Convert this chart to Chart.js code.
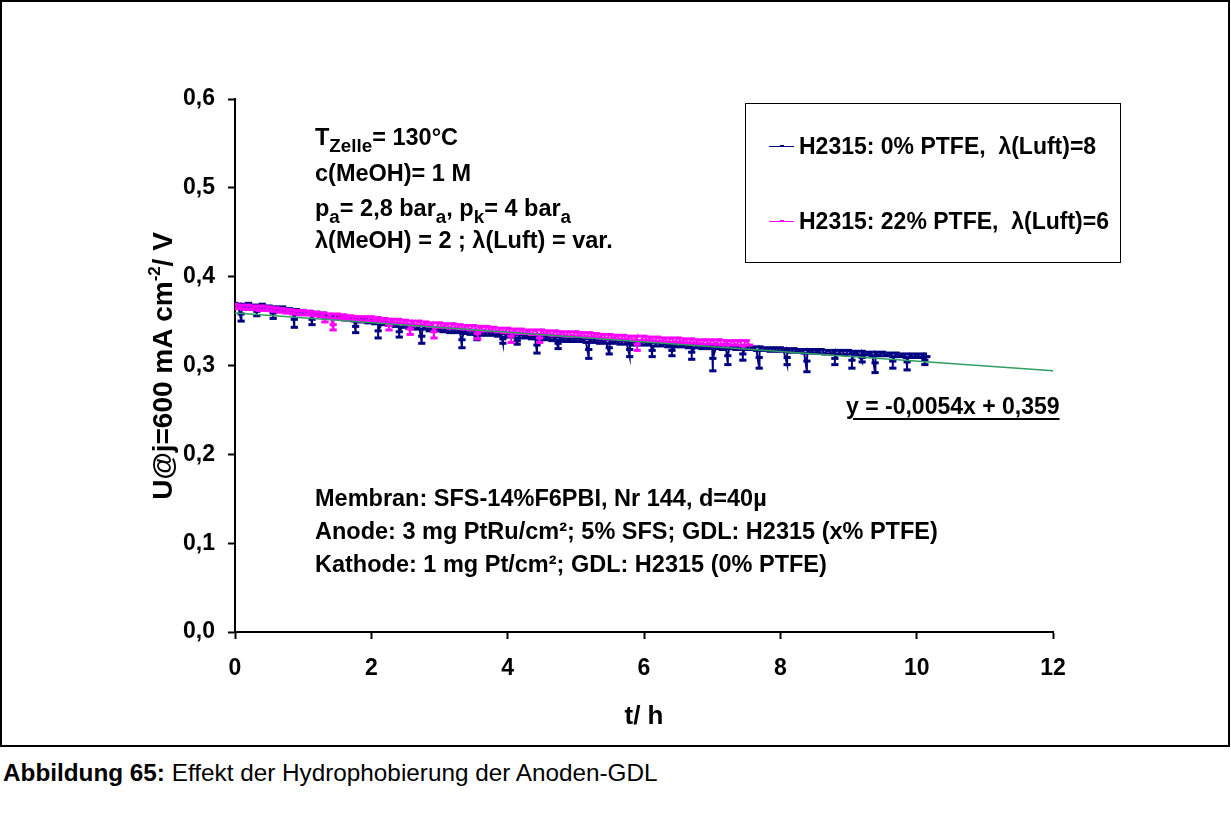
<!DOCTYPE html>
<html>
<head>
<meta charset="utf-8">
<script src="https://cdn.jsdelivr.net/npm/chart.js@4.4.1/dist/chart.umd.min.js"></script>
<style>
  html, body { margin: 0; padding: 0; background: #fff; }
  #page { position: relative; width: 1231px; height: 821px; overflow: hidden;
          font-family: "Liberation Sans", Arial, sans-serif; color: #000; }
  #plot { position: absolute; left: 0; top: 0; }
  .frame { position: absolute; left: 0; top: 0; width: 1230px; height: 747px;
           box-sizing: border-box; border: 2px solid #000; pointer-events: none; }
  .txt { position: absolute; white-space: nowrap; font-weight: bold; font-size: 23.5px; line-height: 24px; }
  .txt sub { font-size: 80%; vertical-align: -0.35em; line-height: 0; }
  .legend { position: absolute; left: 745px; top: 103px; width: 376px; height: 160px;
            box-sizing: border-box; border: 1px solid #000; background: #fff; }
  .leg-row { position: absolute; left: 23px; white-space: nowrap; font-weight: bold;
             font-size: 23px; line-height: 23px; }
  .leg-sym { display: inline-block; position: relative; width: 25px; height: 23px;
             vertical-align: top; margin-right: 5px; }
  .leg-sym i { position: absolute; left: 0; right: 0; top: 11px; height: 1px; }
  .leg-sym b { position: absolute; left: 11px; width: 4px; top: 10px; height: 2px; }
  .ytitle { position: absolute; left: 163px; top: 366px; transform: translate(-50%, -50%) rotate(-90deg);
            white-space: nowrap; font-weight: bold; font-size: 28px; line-height: 28px; }
  .ytitle sup { font-size: 60%; vertical-align: 0.7em; line-height: 0; }
  .equation { position: absolute; left: 846px; top: 395px; white-space: nowrap; font-weight: bold;
              font-size: 23px; line-height: 23px; text-decoration: underline;
              text-decoration-thickness: 2px; text-underline-offset: 4px; }
  .caption { position: absolute; left: 3px; top: 761px; white-space: nowrap; font-size: 24.3px; line-height: 24px; }
</style>
</head>
<body>
<div id="page">
  <canvas id="plot" width="1231" height="746"></canvas>
  <div class="frame"></div>

  <div class="ytitle">U@j=600 mA cm<sup>-2</sup>/ V</div>

  <div class="txt" style="left:315px; top:125px;">T<sub>Zelle</sub>= 130°C</div>
  <div class="txt" style="left:315px; top:161px;">c(MeOH)= 1 M</div>
  <div class="txt" style="left:315px; top:196px;">p<sub>a</sub>= 2,8 bar<sub>a</sub>, p<sub>k</sub>= 4 bar<sub>a</sub></div>
  <div class="txt" style="left:315px; top:228px;">λ(MeOH) = 2 ; λ(Luft) = var.</div>

  <div class="txt" style="left:315px; top:486px;">Membran: SFS-14%F6PBI, Nr 144, d=40µ</div>
  <div class="txt" style="left:315px; top:519px;">Anode: 3 mg PtRu/cm²; 5% SFS; GDL: H2315 (x% PTFE)</div>
  <div class="txt" style="left:315px; top:552px;">Kathode: 1 mg Pt/cm²; GDL: H2315 (0% PTFE)</div>

  <div class="legend">
    <div class="leg-row" style="top:31px;"><span class="leg-sym"><i style="background:#000080"></i><b style="background:#000080"></b></span>H2315: 0% PTFE,&nbsp; λ(Luft)=8</div>
    <div class="leg-row" style="top:106px;"><span class="leg-sym"><i style="background:#ff00ff"></i><b style="background:#ff00ff"></b></span>H2315: 22% PTFE,&nbsp; λ(Luft)=6</div>
  </div>

  <div class="equation">y = -0,0054x + 0,359</div>

  <div class="caption"><b>Abbildung 65:</b> Effekt der Hydrophobierung der Anoden-GDL</div>
</div>

<script>
// Sampling interval of the logged cell voltage (hours)
const sampleStep = 0.05;

// H2315, 0% PTFE, lambda(Luft)=8 : cell voltage in V, one value per sample
const navyVoltage = [
  0.370, 0.366, 0.369, 0.365, 0.370, 0.366, 0.368, 0.364, 0.369, 0.365,
  0.367, 0.364, 0.366, 0.362, 0.366, 0.362, 0.364, 0.360, 0.363, 0.359,
  0.362, 0.358, 0.361, 0.357, 0.360, 0.356, 0.359, 0.355, 0.357, 0.354,
  0.356, 0.352, 0.355, 0.351, 0.354, 0.350, 0.353, 0.349, 0.352, 0.348,
  0.351, 0.347, 0.350, 0.346, 0.349, 0.345, 0.348, 0.344, 0.347, 0.343,
  0.346, 0.342, 0.345, 0.341, 0.345, 0.341, 0.343, 0.339, 0.342, 0.339,
  0.342, 0.338, 0.341, 0.337, 0.341, 0.337, 0.339, 0.336, 0.339, 0.335,
  0.339, 0.335, 0.338, 0.334, 0.338, 0.334, 0.336, 0.333, 0.336, 0.332,
  0.336, 0.332, 0.335, 0.331, 0.335, 0.331, 0.333, 0.330, 0.333, 0.329,
  0.333, 0.329, 0.332, 0.328, 0.332, 0.328, 0.331, 0.327, 0.330, 0.327,
  0.331, 0.327, 0.330, 0.326, 0.330, 0.326, 0.329, 0.325, 0.328, 0.325,
  0.329, 0.325, 0.328, 0.324, 0.328, 0.324, 0.327, 0.323, 0.326, 0.323,
  0.327, 0.323, 0.326, 0.322, 0.326, 0.322, 0.325, 0.321, 0.324, 0.321,
  0.325, 0.321, 0.324, 0.320, 0.324, 0.320, 0.323, 0.319, 0.322, 0.319,
  0.323, 0.319, 0.322, 0.318, 0.323, 0.319, 0.322, 0.318, 0.322, 0.318,
  0.322, 0.318, 0.321, 0.317, 0.321, 0.317, 0.320, 0.316, 0.320, 0.316,
  0.320, 0.316, 0.319, 0.315, 0.319, 0.315, 0.318, 0.314, 0.318, 0.314,
  0.318, 0.314, 0.318, 0.313, 0.317, 0.313, 0.317, 0.313, 0.317, 0.312,
  0.317, 0.313, 0.316, 0.312, 0.316, 0.312, 0.315, 0.311, 0.315, 0.311,
  0.315, 0.311, 0.314, 0.310, 0.314, 0.310, 0.313, 0.309, 0.313, 0.309,
  0.313, 0.309, 0.313, 0.310
];
// Short voltage drops of the same run: time (h), lowest value, recovery value (V)
const navyDropTime = [0.09, 0.32, 0.56, 0.87, 1.13, 1.77, 2.10, 2.41, 2.74, 3.33, 3.55, 3.93,
  4.14, 4.43, 4.74, 5.19, 5.49, 5.79, 6.12, 6.41, 6.70, 7.01, 7.23, 7.45, 7.69, 8.10, 8.39,
  8.80, 9.05, 9.20, 9.39, 9.65, 9.86, 10.12];
const navyDropLow = [0.350, 0.356, 0.353, 0.343, 0.346, 0.337, 0.331, 0.332, 0.325, 0.320, 0.329, 0.325,
  0.324, 0.314, 0.319, 0.308, 0.313, 0.310, 0.310, 0.311, 0.307, 0.294, 0.301, 0.306, 0.297, 0.301, 0.293,
  0.301, 0.297, 0.304, 0.292, 0.297, 0.295, 0.301];
const navyDropMid = [0.358, 0.361, 0.359, 0.352, 0.352, 0.344, 0.339, 0.338, 0.333, 0.329, 0.333, 0.330,
  0.328, 0.323, 0.325, 0.318, 0.320, 0.318, 0.317, 0.317, 0.315, 0.308, 0.311, 0.313, 0.309, 0.309, 0.305,
  0.308, 0.306, 0.309, 0.303, 0.305, 0.304, 0.306];

// H2315, 22% PTFE, lambda(Luft)=6 : cell voltage in V, one value per sample
const magentaVoltage = [
  0.369, 0.364, 0.368, 0.363, 0.368, 0.363, 0.367, 0.362, 0.367, 0.362,
  0.366, 0.361, 0.365, 0.360, 0.364, 0.359, 0.363, 0.358, 0.362, 0.357,
  0.362, 0.357, 0.361, 0.356, 0.360, 0.355, 0.359, 0.354, 0.358, 0.353,
  0.358, 0.353, 0.357, 0.352, 0.356, 0.351, 0.355, 0.350, 0.355, 0.350,
  0.355, 0.350, 0.354, 0.349, 0.353, 0.348, 0.352, 0.347, 0.352, 0.347,
  0.351, 0.346, 0.350, 0.345, 0.350, 0.345, 0.349, 0.344, 0.348, 0.343,
  0.348, 0.343, 0.347, 0.342, 0.347, 0.342, 0.346, 0.341, 0.345, 0.340,
  0.345, 0.340, 0.344, 0.339, 0.344, 0.339, 0.343, 0.338, 0.342, 0.337,
  0.342, 0.337, 0.341, 0.336, 0.341, 0.336, 0.340, 0.335, 0.340, 0.335,
  0.340, 0.335, 0.339, 0.334, 0.339, 0.334, 0.338, 0.333, 0.338, 0.333,
  0.338, 0.333, 0.337, 0.332, 0.337, 0.332, 0.336, 0.331, 0.335, 0.330,
  0.335, 0.330, 0.334, 0.329, 0.334, 0.329, 0.333, 0.328, 0.333, 0.328,
  0.333, 0.328, 0.332, 0.327, 0.332, 0.327, 0.331, 0.326, 0.331, 0.326,
  0.331, 0.326, 0.330, 0.325, 0.330, 0.325, 0.329, 0.324, 0.329, 0.324,
  0.329, 0.324, 0.329, 0.323, 0.328, 0.323, 0.328, 0.323, 0.328, 0.322,
  0.328, 0.323
];
const magentaDropTime = [1.32, 1.44, 1.61, 2.26, 2.57, 2.92, 3.56, 4.05, 4.47, 5.90];
const magentaDropLow  = [0.349, 0.340, 0.351, 0.340, 0.335, 0.331, 0.330, 0.326, 0.326, 0.317];
const magentaDropMid  = [0.354, 0.346, 0.354, 0.345, 0.341, 0.338, 0.336, 0.333, 0.331, 0.324];

// Linear fit of the 0% PTFE run: y = -0,0054x + 0,359
const fitSlope = -0.0054;
const fitIntercept = 0.359;
const fitRange = [0, 12];

// Axis tick labels
const xTickLabels = ['0', '2', '4', '6', '8', '10', '12'];
const yTickLabels = ['0,0', '0,1', '0,2', '0,3', '0,4', '0,5', '0,6'];

// Join the regular samples with the short drops in time order
function buildSeries(values, dropT, dropLow, dropMid) {
  const pts = [];
  let d = 0;
  values.forEach((u, i) => {
    const t = +(i * sampleStep).toFixed(2);
    pts.push({ x: t, y: u });
    while (d < dropT.length && dropT[d] < t + sampleStep) {
      pts.push({ x: dropT[d], y: dropLow[d] }, { x: dropT[d], y: dropMid[d] });
      d++;
    }
  });
  return pts;
}

const fitPoints = fitRange.map(t => ({ x: t, y: fitIntercept + fitSlope * t }));
const font = { family: "'Liberation Sans', Arial, sans-serif", weight: 'bold', size: 23 };

// Logged runs: thin line with short horizontal dash at every sample
const seriesStyle = (color) => ({
  showLine: true,
  borderColor: color,
  backgroundColor: color,
  borderWidth: 2,
  pointStyle: 'line',
  pointRadius: 3.6,
  pointBorderWidth: 3,
  pointBorderColor: color,
  pointHoverRadius: 0
});

new Chart(document.getElementById('plot'), {
  type: 'scatter',
  data: {
    datasets: [
      { label: 'Linear (H2315: 0% PTFE)', data: fitPoints, showLine: true, borderColor: '#2f9e62',
        borderWidth: 1.5, pointRadius: 0 },
      Object.assign({ label: 'H2315: 22% PTFE,  λ(Luft)=6',
        data: buildSeries(magentaVoltage, magentaDropTime, magentaDropLow, magentaDropMid) }, seriesStyle('#ff00ff')),
      Object.assign({ label: 'H2315: 0% PTFE,  λ(Luft)=8',
        data: buildSeries(navyVoltage, navyDropTime, navyDropLow, navyDropMid) }, seriesStyle('#000080'))
    ]
  },
  options: {
    responsive: false,
    animation: false,
    events: [],
    layout: { padding: { left: 0, top: 99, right: 178, bottom: 0 } },
    plugins: { legend: { display: false }, tooltip: { enabled: false } },
    scales: {
      x: {
        type: 'linear', min: 0, max: 12,
        afterFit: (s) => { s.height = 114; },
        afterBuildTicks: (s) => { s.ticks = xTickLabels.map((_, i) => ({ value: i * 2 })); },
        ticks: { font, color: '#000', padding: 16, maxRotation: 0,
                 callback: (v, i) => xTickLabels[i] },
        grid: { drawOnChartArea: false, drawTicks: true, tickLength: 7, tickWidth: 2, tickColor: '#000' },
        border: { color: '#000', width: 2 },
        title: { display: true, text: 't/ h', color: '#000', padding: { top: 0, bottom: 14 },
                 font: { family: font.family, weight: 'bold', size: 26 } }
      },
      y: {
        type: 'linear', min: 0, max: 0.6,
        afterFit: (s) => { s.width = 235; },
        afterBuildTicks: (s) => { s.ticks = yTickLabels.map((_, i) => ({ value: i / 10 })); },
        ticks: { font, color: '#000', padding: 13,
                 callback: (v, i) => yTickLabels[i] },
        grid: { drawOnChartArea: false, drawTicks: true, tickLength: 7, tickWidth: 2, tickColor: '#000' },
        border: { color: '#000', width: 2 }
      }
    }
  }
});
</script>
</body>
</html>
